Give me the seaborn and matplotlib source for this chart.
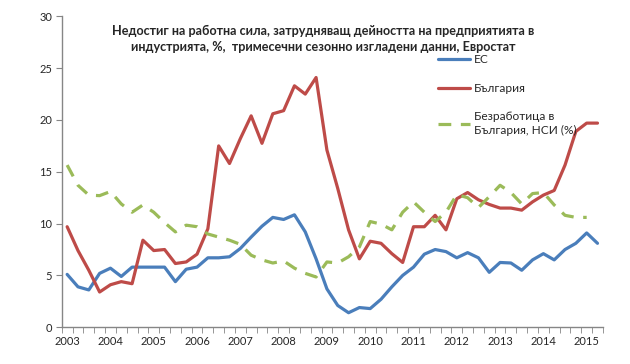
import numpy as np
import pandas as pd
import seaborn as sns
import matplotlib.pyplot as plt

years = list(range(2003, 2016))

# quarterly values, 2003 Q1 .. 2015 Q2
eu = [5.1, 3.9, 3.6, 5.2, 5.7, 4.9, 5.8, 5.8, 5.8, 5.8,
      4.4, 5.6, 5.8, 6.7, 6.7, 6.8, 7.6, 8.7, 9.75, 10.6,
      10.4, 10.85, 9.2, 6.6, 3.7, 2.1, 1.4, 1.9, 1.8, 2.7,
      3.9, 5.0, 5.8, 7.05, 7.5, 7.3, 6.7, 7.2, 6.7, 5.3,
      6.25, 6.2, 5.5, 6.5, 7.1, 6.5, 7.5, 8.1, 9.1, 8.1]
bg = [9.7, 7.4, 5.5, 3.4, 4.1, 4.4, 4.2, 8.4, 7.4, 7.5,
      6.15, 6.3, 7.05, 9.5, 17.5, 15.8, 18.2, 20.4, 17.75, 20.6,
      20.9, 23.3, 22.5, 24.1, 17.1, 13.4, 9.4, 6.6, 8.3, 8.1,
      7.1, 6.25, 9.7, 9.7, 10.8, 9.4, 12.4, 13.0, 12.3, 11.85,
      11.5, 11.5, 11.3, 12.1, 12.75, 13.2, 15.65, 18.9, 19.7, 19.7]
unemp = [15.65, 13.7, 12.75, 12.7, 13.1, 11.9, 11.1, 11.8, 11.1, 10.1,
         9.2, 9.85, 9.7, 9.0, 8.7, 8.4, 8.0, 6.95, 6.5, 6.2,
         6.4, 5.7, 5.2, 4.85, 6.3, 6.2, 6.8, 7.75, 10.2, 9.95,
         9.4, 11.1, 12.1, 11.1, 10.2, 11.1, 12.8, 12.5, 11.55, 12.6,
         13.7, 13.0, 11.9, 12.9, 13.0, 11.8, 10.8, 10.6, 10.6, np.nan]

labels = ["ЕС", "България", "Безработица в\nБългария, НСИ (%)"]
title = ("Недостиг на работна сила, затрудняващ дейността на предприятията в\n"
         "индустрията, %,  тримесечни сезонно изгладени данни, Евростат")

df = pd.DataFrame({"q": np.arange(len(eu)), "eu": eu, "bg": bg, "unemp": unemp})

sns.set_style("white")
plt.rcParams["font.family"] = ["Lato", "DejaVu Sans"]

fig = plt.figure(figsize=(6.3, 3.64), dpi=100)
ax = fig.add_axes([0.098, 0.101, 0.859, 0.854])

sns.lineplot(data=df, x="q", y="eu", ax=ax, color="#4A7EBB", lw=2.3, label=labels[0])
sns.lineplot(data=df, x="q", y="bg", ax=ax, color="#BE4B48", lw=2.3, label=labels[1])
sns.lineplot(data=df, x="q", y="unemp", ax=ax, color="#9BBB59", lw=2.3,
             dashes=(4, 3), label=labels[2])

ax.set_xlim(-0.5, len(eu) - 0.5)
ax.set_ylim(0, 30)
ax.set_yticks(range(0, 31, 5))
ax.set_xticks(np.arange(0, len(eu), 4))
ax.set_xticklabels([str(y) for y in years])
ax.set_xticks(np.arange(-0.5, len(eu), 1), minor=True)
ax.set_xlabel("")
ax.set_ylabel("")

for s in ["top", "right"]:
    ax.spines[s].set_visible(False)
for s in ["left", "bottom"]:
    ax.spines[s].set_color("#868686")
    ax.spines[s].set_linewidth(1)
ax.tick_params(axis="x", which="major", length=0, labelsize=8, pad=6)
ax.tick_params(axis="x", which="minor", length=4, color="#868686", bottom=True)
ax.tick_params(axis="y", length=4, color="#868686", labelsize=8, left=True, pad=3)

fig.text(0.513, 0.893, title, ha="center", va="center", fontsize=9.1,
         fontweight="bold", linespacing=1.45)

leg = ax.legend(loc="upper left", bbox_to_anchor=(0.684, 0.897), frameon=False,
                fontsize=8.6, handlelength=2.7, handletextpad=0.3,
                labelspacing=1.45, borderpad=0)
for t in leg.get_texts():
    t.set_linespacing(1.3)

fig.savefig("out.png", dpi=100)
